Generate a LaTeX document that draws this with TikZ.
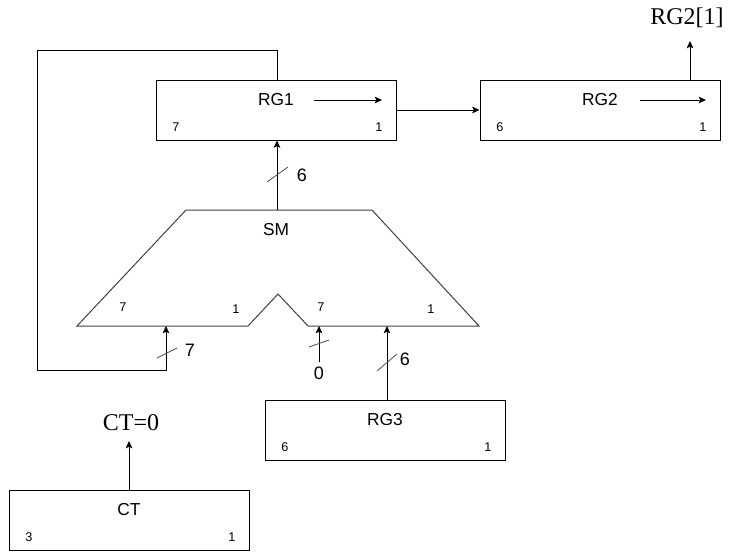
\documentclass[tikz,border=0pt]{standalone}
\usepackage{fontspec}
\setmainfont{Liberation Sans}
\newfontfamily\serifrm{Liberation Serif}
\usetikzlibrary{arrows.meta}

\tikzset{
  regbox/.style={draw, line width=0.75pt, minimum width=180pt, minimum height=45pt, inner sep=0pt},
  title/.style={font=\fontsize{13}{14}\selectfont},
  bitno/.style={font=\fontsize{9.5}{10}\selectfont},
  buslabel/.style={font=\fontsize{13.5}{14}\selectfont},
  outtext/.style={font=\serifrm\fontsize{18}{19}\selectfont},
  sig/.style={->, line width=0.75pt},
  smline/.style={line width=0.75pt, black!75},
  busmark/.style={line width=0.6pt, black!70},
}

\begin{document}
\begin{tikzpicture}[x=0.75pt, y=-0.75pt, >={Stealth[length=5.5pt,width=5pt,inset=1.2pt]}]
  \useasboundingbox (0,0) rectangle (733,551);

  % 1. registers and counter
  \foreach \n/\x/\y/\t/\hi in {rg1/276/110/RG1/7, rg2/600/110/RG2/6, rg3/385/430/RG3/6, ct/129/520/CT/3} {
    \node[regbox] (\n) at (\x,\y) {};
    \node[title] (\n-t) at (\x,\y-10) {\t};
    \node[bitno] (\n-hi) at (\x-100,\y+17) {\hi};
    \node[bitno] (\n-lo) at (\x+103,\y+17) {1};
  }
  \draw[sig] ([shift={(38,-10)}]rg1.center) -- ([shift={(106,-10)}]rg1.center);
  \draw[sig] ([shift={(40,-10)}]rg2.center) -- ([shift={(106,-10)}]rg2.center);

  % 2. adder SM
  \draw[smline] (186,210) -- (372,210) -- (479,326) -- (308,326) -- (278,294)
    -- (248,326) -- (77,326) -- cycle;
  \node[title] (sm-t) at (276,230) {SM};
  \node[bitno] (sm-a-hi) at (123,307) {7};
  \node[bitno] (sm-a-lo) at (236,309) {1};
  \node[bitno] (sm-b-hi) at (321,307) {7};
  \node[bitno] (sm-b-lo) at (431,309) {1};
  \coordinate (sm-out) at (277,210);
  \coordinate (sm-a) at (166,326);
  \coordinate (sm-b) at (319,326);
  \coordinate (sm-c) at (387,326);

  % 3. connections
  \coordinate (loop-top) at (277,50);
  \coordinate (loop-tl) at (37,50);
  \coordinate (loop-bl) at (37,370);
  \coordinate (q1) at (129,441);
  \coordinate (q2) at (690,41);
  \node[outtext] (rg2-o) at (687,18) {RG2[1]};
  \node[outtext] (ct-o) at (131,423) {CT=0};
  \node[buslabel] (zero) at (319,373) {0};

  \draw[sig] (sm-out) -- (rg1.south -| sm-out);
  \draw[sig] (rg1) -- (rg2);
  \draw[sig] (rg2.north -| q2) -- (q2);
  \draw[sig] (rg1.north -| loop-top) -- (loop-top) -- (loop-tl) -- (loop-bl) -| (sm-a);
  \draw[sig] (zero) -- (sm-b);
  \draw[sig] (rg3.north -| sm-c) -- (sm-c);
  \draw[sig] (ct) -- (q1);

  % 4. bus width marks
  \draw[busmark] (267,182) -- (288,167);
  \node[buslabel] (w-out) at (302,175) {6};
  \draw[busmark] (157,358) -- (177,348);
  \node[buslabel] (w-a) at (190,350) {7};
  \draw[busmark] (309,347) -- (329,340);
  \draw[busmark] (377,371) -- (397,354);
  \node[buslabel] (w-c) at (405,359) {6};
\end{tikzpicture}
\end{document}
